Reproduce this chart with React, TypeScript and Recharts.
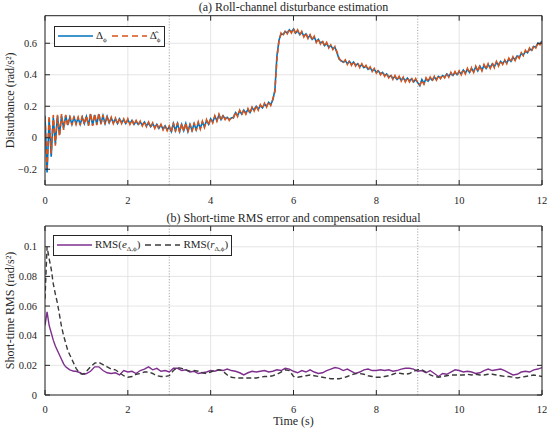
import { LineChart, Line, XAxis, YAxis, CartesianGrid, ReferenceLine, Legend } from "recharts";

// tick positions
const xTicks = [0, 2, 4, 6, 8, 10, 12];
const phaseMarks = [3, 9];
const disturbanceTicks = [-0.2, 0, 0.2, 0.4, 0.6];
const rmsTicks = [0, 0.02, 0.04, 0.06, 0.08, 0.1];

// (a) true disturbance, sampled every 0.05 s
const delta = [
  0.14, -0.22, 0.12, -0.12, 0.13, -0.04, 0.14, 0.02, 0.14, 0.06, 0.14,
  0.08, 0.13, 0.085, 0.13, 0.09, 0.125, 0.085, 0.13, 0.09, 0.135,
  0.08, 0.15, 0.08, 0.145, 0.085, 0.15, 0.09, 0.14, 0.09, 0.135,
  0.095, 0.125, 0.095, 0.12, 0.09, 0.12, 0.095, 0.115, 0.09, 0.115,
  0.09, 0.11, 0.085, 0.105, 0.085, 0.1, 0.08, 0.1, 0.075, 0.095,
  0.07, 0.09, 0.065, 0.085, 0.06, 0.08, 0.055, 0.075, 0.05, 0.07,
  0.04, 0.09, 0.045, 0.09, 0.04, 0.085, 0.045, 0.09, 0.04, 0.085,
  0.045, 0.09, 0.05, 0.095, 0.06, 0.1, 0.07, 0.11, 0.085, 0.12,
  0.1, 0.135, 0.11, 0.145, 0.115, 0.14, 0.12, 0.13, 0.115, 0.125,
  0.13, 0.16, 0.14, 0.17, 0.15, 0.175, 0.155, 0.18, 0.16, 0.19,
  0.175, 0.2, 0.18, 0.205, 0.19, 0.215, 0.2, 0.225, 0.21, 0.24,
  0.3, 0.52, 0.62, 0.66, 0.655, 0.675, 0.665, 0.685, 0.67, 0.69,
  0.665, 0.68, 0.655, 0.67, 0.645, 0.66, 0.635, 0.65, 0.625, 0.64,
  0.61, 0.625, 0.6, 0.61, 0.585, 0.6, 0.575, 0.585, 0.565, 0.575,
  0.54, 0.5, 0.49, 0.48, 0.49, 0.47, 0.485, 0.465, 0.48, 0.46,
  0.47, 0.45, 0.465, 0.445, 0.455, 0.435, 0.445, 0.425, 0.435, 0.415,
  0.425, 0.405, 0.415, 0.395, 0.405, 0.385, 0.395, 0.375, 0.39, 0.37,
  0.385, 0.365, 0.38, 0.36, 0.378, 0.36, 0.375, 0.355, 0.37, 0.35,
  0.33, 0.37, 0.345, 0.375, 0.36, 0.38, 0.365, 0.385, 0.37, 0.39,
  0.38, 0.395, 0.385, 0.405, 0.39, 0.41, 0.395, 0.415, 0.4, 0.42,
  0.405, 0.43, 0.41, 0.435, 0.415, 0.44, 0.42, 0.45, 0.425, 0.455,
  0.43, 0.46, 0.44, 0.465, 0.445, 0.47, 0.45, 0.48, 0.46, 0.485,
  0.47, 0.49, 0.475, 0.5, 0.485, 0.51, 0.495, 0.52, 0.51, 0.535,
  0.525, 0.55, 0.54, 0.565, 0.555, 0.58, 0.575, 0.6, 0.595, 0.615,
];

// (a) estimated disturbance
const deltaHat = [
  0.13, -0.19, 0.14, -0.1, 0.145, -0.05, 0.145, 0.01, 0.15, 0.05, 0.145,
  0.075, 0.14, 0.08, 0.135, 0.085, 0.13, 0.08, 0.14, 0.085, 0.14,
  0.075, 0.155, 0.075, 0.15, 0.08, 0.155, 0.085, 0.145, 0.085, 0.14,
  0.09, 0.13, 0.09, 0.125, 0.085, 0.125, 0.09, 0.12, 0.085, 0.12,
  0.085, 0.115, 0.08, 0.11, 0.08, 0.105, 0.075, 0.105, 0.07, 0.1,
  0.065, 0.095, 0.06, 0.09, 0.055, 0.085, 0.05, 0.08, 0.045, 0.075,
  0.035, 0.095, 0.04, 0.095, 0.035, 0.09, 0.04, 0.095, 0.035, 0.09,
  0.04, 0.095, 0.045, 0.1, 0.055, 0.105, 0.065, 0.115, 0.08, 0.125,
  0.095, 0.14, 0.105, 0.15, 0.11, 0.145, 0.115, 0.135, 0.11, 0.13,
  0.125, 0.165, 0.135, 0.175, 0.145, 0.18, 0.15, 0.185, 0.155, 0.195,
  0.17, 0.205, 0.175, 0.21, 0.185, 0.22, 0.195, 0.23, 0.205, 0.245,
  0.29, 0.5, 0.615, 0.665, 0.65, 0.68, 0.66, 0.69, 0.665, 0.695,
  0.66, 0.685, 0.65, 0.675, 0.64, 0.665, 0.63, 0.655, 0.62, 0.645,
  0.605, 0.63, 0.595, 0.615, 0.58, 0.605, 0.57, 0.59, 0.56, 0.58,
  0.545, 0.505, 0.485, 0.475, 0.495, 0.465, 0.49, 0.46, 0.485, 0.455,
  0.475, 0.445, 0.47, 0.44, 0.46, 0.43, 0.45, 0.42, 0.44, 0.41,
  0.43, 0.4, 0.42, 0.39, 0.41, 0.38, 0.4, 0.37, 0.395, 0.365,
  0.39, 0.36, 0.385, 0.355, 0.383, 0.355, 0.38, 0.35, 0.375, 0.345,
  0.335, 0.365, 0.34, 0.38, 0.355, 0.385, 0.36, 0.39, 0.365, 0.395,
  0.375, 0.4, 0.38, 0.41, 0.385, 0.415, 0.39, 0.42, 0.395, 0.425,
  0.4, 0.435, 0.405, 0.44, 0.41, 0.445, 0.415, 0.455, 0.42, 0.46,
  0.425, 0.465, 0.435, 0.47, 0.44, 0.475, 0.445, 0.485, 0.455, 0.49,
  0.465, 0.495, 0.47, 0.505, 0.48, 0.515, 0.49, 0.525, 0.505, 0.54,
  0.52, 0.555, 0.535, 0.57, 0.55, 0.585, 0.57, 0.605, 0.59, 0.62,
];

// (b) short-time RMS, every 0.05 s up to 1 s then every 0.1 s
const rmsE = [
  0.047, 0.056, 0.047, 0.042, 0.037, 0.033, 0.03, 0.027, 0.024, 0.021, 0.019,
  0.018, 0.017, 0.0165, 0.016, 0.016, 0.0155, 0.015, 0.0142, 0.014, 0.0145,
  0.016, 0.019, 0.019, 0.0165, 0.015, 0.0145, 0.015, 0.0135, 0.0165, 0.0155,
  0.016, 0.0145, 0.0165, 0.0175, 0.019, 0.017, 0.018, 0.016, 0.0165, 0.0155,
  0.018, 0.018, 0.0165, 0.017, 0.0155, 0.016, 0.0145, 0.015, 0.0155, 0.0165,
  0.016, 0.017, 0.0165, 0.0175, 0.0165, 0.016, 0.015, 0.0135, 0.015, 0.016,
  0.0155, 0.016, 0.0165, 0.0155, 0.016, 0.017, 0.0165, 0.018, 0.0175, 0.016,
  0.015, 0.0165, 0.0155, 0.017, 0.0155, 0.0145, 0.015, 0.0165, 0.0175, 0.0185,
  0.018, 0.0165, 0.0175, 0.016, 0.0145, 0.0155, 0.017, 0.0175, 0.0165, 0.0165,
  0.017, 0.0165, 0.017, 0.016, 0.0165, 0.0175, 0.018, 0.018, 0.0175, 0.016,
  0.0165, 0.015, 0.0165, 0.0145, 0.0125, 0.0145, 0.014, 0.0155, 0.017, 0.0165,
  0.0155, 0.016, 0.0155, 0.0145, 0.015, 0.0165, 0.0175, 0.0165, 0.017, 0.0175,
  0.0165, 0.015, 0.0135, 0.014, 0.0155, 0.016, 0.0155, 0.017, 0.0175, 0.0185,
];

const rmsR = [
  0.065, 0.1, 0.092, 0.085, 0.075, 0.068, 0.062, 0.054, 0.046, 0.04, 0.035,
  0.03, 0.027, 0.024, 0.021, 0.018, 0.016, 0.0145, 0.014, 0.0145, 0.016,
  0.019, 0.0215, 0.022, 0.0205, 0.019, 0.0175, 0.017, 0.015, 0.013, 0.012,
  0.0125, 0.014, 0.0145, 0.0155, 0.0155, 0.0145, 0.013, 0.0125, 0.0125, 0.013,
  0.0165, 0.0185, 0.018, 0.017, 0.016, 0.0165, 0.016, 0.015, 0.0145, 0.0155,
  0.0165, 0.017, 0.016, 0.0135, 0.012, 0.0115, 0.0115, 0.0115, 0.0115, 0.0115,
  0.0115, 0.012, 0.0125, 0.0125, 0.013, 0.014, 0.0155, 0.017, 0.0165, 0.0125,
  0.012, 0.0125, 0.013, 0.0135, 0.013, 0.0125, 0.012, 0.0115, 0.011, 0.011,
  0.011, 0.0115, 0.0125, 0.0135, 0.0145, 0.0145, 0.014, 0.013, 0.0125, 0.012,
  0.012, 0.0125, 0.013, 0.014, 0.015, 0.0145, 0.014, 0.0145, 0.016, 0.017,
  0.017, 0.0155, 0.0135, 0.0125, 0.012, 0.0125, 0.013, 0.0135, 0.0135, 0.0135,
  0.0135, 0.014, 0.0135, 0.014, 0.0135, 0.0135, 0.014, 0.014, 0.0135, 0.013,
  0.0125, 0.0125, 0.012, 0.0115, 0.012, 0.0125, 0.013, 0.0135, 0.013, 0.0125,
];

const time = delta.map((_, i) => Math.round(i * 5) / 100);
const rmsTime = rmsE.map((_, i) => (i <= 20 ? Math.round(i * 5) / 100 : Math.round(10 + (i - 20)) / 10));

const disturbanceData = time.map((t, i) => ({ t, delta: delta[i], deltaHat: deltaHat[i] }));
const rmsData = rmsTime.map((t, i) => ({ t, e: rmsE[i], r: rmsR[i] }));

const INK = "#262626";
const GRID = "#dedede";
const FONT = "Liberation Serif, Times New Roman, serif";
const tickStyle = { fill: INK, fontSize: 10.5, fontFamily: FONT };
const labelStyle = { fill: INK, fontSize: 12, fontFamily: FONT };
const sub = { fontSize: 7, position: "relative" as const, top: 3 };

const fmtDist = (v: number) => (v === 0 ? "0" : (v < 0 ? "\u2212" : "") + Math.abs(v).toFixed(1));
const fmtRms = (v: number) => (v === 0 ? "0" : v === 0.1 ? "0.1" : v.toFixed(2));
const blank = () => "";

type Key = { color: string; dash?: string; width: number; label: React.ReactNode };

function LegendBox({ items }: { items: Key[] }) {
  return (
    <div
      style={{
        display: "inline-flex",
        alignItems: "center",
        border: `1px solid ${INK}`,
        background: "#fff",
        padding: "1px 3px",
        fontSize: 11,
        lineHeight: "15px",
        color: INK,
        fontFamily: FONT,
        gap: 5,
        whiteSpace: "nowrap",
      }}
    >
      {items.map((it, i) => (
        <span key={i} style={{ display: "inline-flex", alignItems: "center" }}>
          <svg width={35} height={6}>
            <line x1={0} x2={35} y1={3} y2={3} stroke={it.color} strokeWidth={it.width} strokeDasharray={it.dash} />
          </svg>
          <span style={{ marginLeft: 3 }}>{it.label}</span>
        </span>
      ))}
    </div>
  );
}

const topKeys: Key[] = [
  { color: "#0072BD", width: 1.6, label: <>Δ<span style={sub}>ϕ</span></> },
  { color: "#D95319", width: 1.6, dash: "6 4", label: <>{"Δ\u0302"}<span style={sub}>ϕ</span></> },
];
const bottomKeys: Key[] = [
  { color: "#7E2F8E", width: 1.4, label: <>RMS(<i>e</i><span style={sub}>Δ,ϕ</span>)</> },
  { color: "#3a3a3a", width: 1.4, dash: "6 4", label: <>RMS(<i>r</i><span style={sub}>Δ,ϕ</span>)</> },
];

export default function App() {
  return (
    <div style={{ position: "absolute", left: 0, top: 0, width: 550, height: 430, background: "#fff", fontFamily: FONT }}>
      <div style={{ position: "absolute", left: 0, top: 0 }}>
        <LineChart width={550} height={215} data={disturbanceData} margin={{ top: 14.7, right: 7, bottom: 29, left: 0 }}>
          <CartesianGrid stroke={GRID} strokeWidth={0.8} />
          <XAxis dataKey="t" type="number" domain={[0, 12]} ticks={xTicks} interval={0} allowDataOverflow height={1}
            tickSize={-5} tickMargin={16.5} stroke={INK} tick={tickStyle} />
          <XAxis xAxisId="top" orientation="top" dataKey="t" type="number" domain={[0, 12]} ticks={xTicks} interval={0}
            allowDataOverflow height={1} tickSize={-5} tickFormatter={blank} stroke={INK}
            label={{ value: "(a) Roll-channel disturbance estimation", position: "top", offset: 4, ...labelStyle }} />
          <YAxis type="number" domain={[-0.3, 0.775]} ticks={disturbanceTicks} interval={0} allowDataOverflow width={45}
            tickSize={-5} tickMargin={13} stroke={INK} tick={tickStyle} tickFormatter={fmtDist}
            label={{ value: "Disturbance (rad/s²)", angle: -90, position: "insideLeft", offset: 10, ...labelStyle, style: { textAnchor: "middle" } }} />
          <YAxis yAxisId="right" orientation="right" type="number" domain={[-0.3, 0.775]} ticks={disturbanceTicks} interval={0}
            allowDataOverflow width={1} tickSize={-5} tickFormatter={blank} stroke={INK} />
          {phaseMarks.map((m) => (
            <ReferenceLine key={m} x={m} stroke="#a8a8a8" strokeDasharray="1.2 1.6" />
          ))}
          <Line type="linear" dataKey="delta" stroke="#0072BD" strokeWidth={1.6} dot={false} isAnimationActive={false} />
          <Line type="linear" dataKey="deltaHat" stroke="#D95319" strokeWidth={1.6} strokeDasharray="5 3" dot={false} isAnimationActive={false} />
          <Legend verticalAlign="middle" align="center" layout="horizontal"
            wrapperStyle={{ top: 25, left: 54, width: "auto" }} content={() => <LegendBox items={topKeys} />} />
        </LineChart>
      </div>
      <div style={{ position: "absolute", left: 0, top: 205 }}>
        <LineChart width={550} height={225} data={rmsData} margin={{ top: 20, right: 7, bottom: 34, left: 0 }}>
          <CartesianGrid stroke={GRID} strokeWidth={0.8} />
          <XAxis dataKey="t" type="number" domain={[0, 12]} ticks={xTicks} interval={0} allowDataOverflow height={1}
            tickSize={-5} tickMargin={15.5} stroke={INK} tick={tickStyle}
            label={{ value: "Time (s)", position: "bottom", offset: 20, ...labelStyle }} />
          <XAxis xAxisId="top" orientation="top" dataKey="t" type="number" domain={[0, 12]} ticks={xTicks} interval={0}
            allowDataOverflow height={1} tickSize={-5} tickFormatter={blank} stroke={INK}
            label={{ value: "(b) Short-time RMS error and compensation residual", position: "top", offset: 3, ...labelStyle }} />
          <YAxis type="number" domain={[0, 0.114]} ticks={rmsTicks} interval={0} allowDataOverflow width={45}
            tickSize={-5} tickMargin={13} stroke={INK} tick={tickStyle} tickFormatter={fmtRms}
            label={{ value: "Short-time RMS (rad/s²)", angle: -90, position: "insideLeft", offset: 10, ...labelStyle, style: { textAnchor: "middle" } }} />
          <YAxis yAxisId="right" orientation="right" type="number" domain={[0, 0.114]} ticks={rmsTicks} interval={0}
            allowDataOverflow width={1} tickSize={-5} tickFormatter={blank} stroke={INK} />
          {phaseMarks.map((m) => (
            <ReferenceLine key={m} x={m} stroke="#a8a8a8" strokeDasharray="1.2 1.6" />
          ))}
          <Line type="linear" dataKey="e" stroke="#7E2F8E" strokeWidth={1.4} dot={false} isAnimationActive={false} />
          <Line type="linear" dataKey="r" stroke="#3a3a3a" strokeWidth={1.4} strokeDasharray="5 3" dot={false} isAnimationActive={false} />
          <Legend verticalAlign="middle" align="center" layout="horizontal"
            wrapperStyle={{ top: 29, left: 53, width: "auto" }} content={() => <LegendBox items={bottomKeys} />} />
        </LineChart>
      </div>
    </div>
  );
}
